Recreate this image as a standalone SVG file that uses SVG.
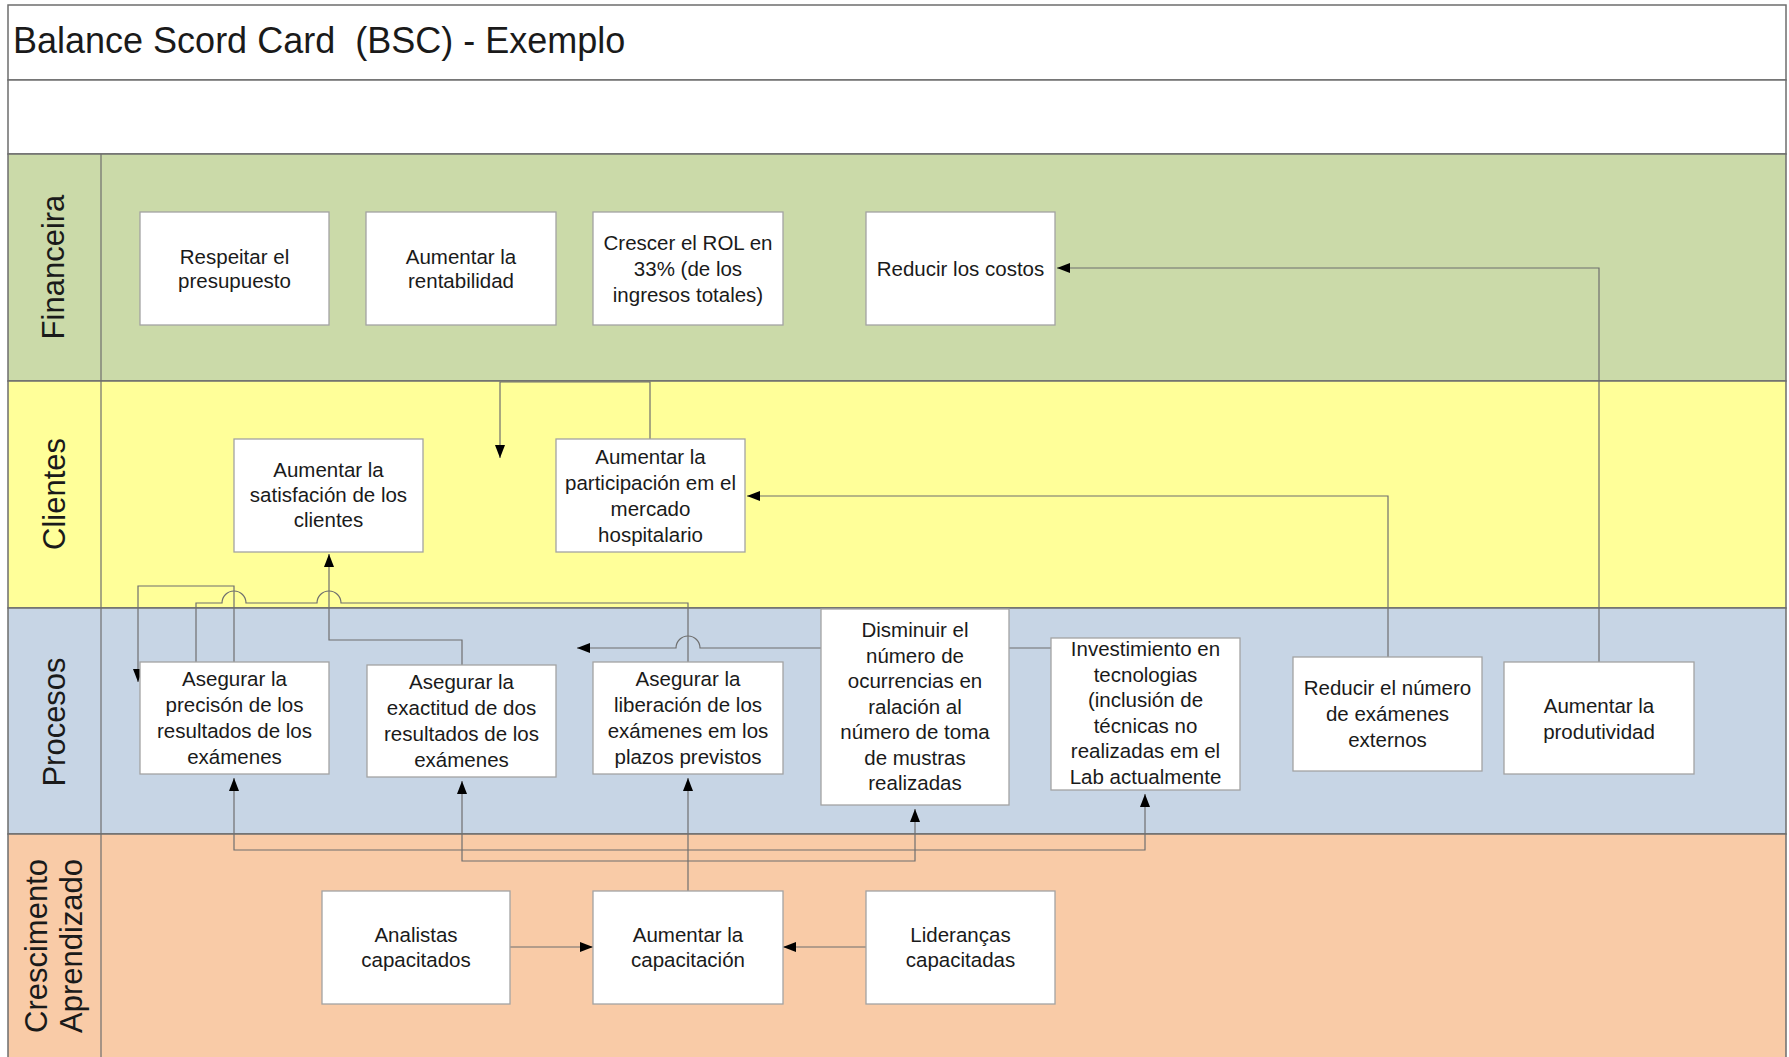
<svg xmlns="http://www.w3.org/2000/svg" width="1789" height="1057" viewBox="0 0 1789 1057">
<defs>
<style>
.lane{stroke:#6e6e6e;stroke-width:1.5}
.box{fill:#ffffff;stroke:#a3a3a3;stroke-width:1.3}
.t{font-family:"Liberation Sans",Arial,sans-serif;font-size:20.5px;fill:#1a1a1a;text-anchor:middle}
.lbl{font-family:"Liberation Sans",Arial,sans-serif;font-size:31px;fill:#1a1a1a;text-anchor:middle}
.c{fill:none;stroke:#6f6f6f;stroke-width:1.2}
</style>
<marker id="ah" markerWidth="13" markerHeight="10" refX="13" refY="5" orient="auto" markerUnits="userSpaceOnUse">
<path d="M0,0 L13,5 L0,10 z" fill="#000"/>
</marker>
</defs>
<rect x="0" y="0" width="1789" height="1057" fill="#ffffff"/>
<g id="frame">
<rect x="8" y="5" width="1778" height="75" fill="#ffffff" stroke="#6e6e6e" stroke-width="1.5"/>
<rect x="8" y="80" width="1778" height="74" fill="#ffffff" stroke="#6e6e6e" stroke-width="1.5"/>
<text x="13" y="53" xml:space="preserve" font-family="'Liberation Sans',Arial,sans-serif" font-size="36" fill="#1a1a1a">Balance Scord Card  (BSC) - Exemplo</text>
</g>
<g id="lanes">
<rect class="lane" x="8" y="154" width="1778" height="227" fill="#cbdaa9"/>
<rect class="lane" x="8" y="381" width="1778" height="227" fill="#ffff99"/>
<rect class="lane" x="8" y="608" width="1778" height="226" fill="#c7d5e5"/>
<rect class="lane" x="8" y="834" width="1778" height="230" fill="#f9cba7"/>
<line x1="101" y1="154" x2="101" y2="1057" stroke="#6e6e6e" stroke-width="1.2"/>
<text class="lbl" transform="translate(64,267) rotate(-90)">Financeira</text>
<text class="lbl" transform="translate(65,494) rotate(-90)">Clientes</text>
<text class="lbl" transform="translate(65,722) rotate(-90)">Procesos</text>
<text class="lbl" transform="translate(47,946) rotate(-90)">Crescimento</text>
<text class="lbl" transform="translate(82,946) rotate(-90)">Aprendizado</text>
</g>
<g id="connectors">
<path class="c" d="M1388,657 V496 H747" marker-end="url(#ah)"/>
<path class="c" d="M1599,662 V268 H1057" marker-end="url(#ah)"/>
<path class="c" d="M650,439 V382 H500 V458" marker-end="url(#ah)"/>
<path class="c" d="M462,665 V640 H329 V554" marker-end="url(#ah)"/>
<path class="c" d="M196,662 V603 H222 A12,12 0 0 1 246,603 H317 A12,12 0 0 1 341,603 H688 V662"/>
<path class="c" d="M234,662 V586 H138 V682" marker-end="url(#ah)"/>
<path class="c" d="M1051,648 H700 A12,12 0 0 0 676,648 H577" marker-end="url(#ah)"/>
<path class="c" d="M688,891 V778" marker-end="url(#ah)" stroke="#333"/>
<path class="c" d="M688,850 H234 V778" marker-end="url(#ah)"/>
<path class="c" d="M688,850 H1145 V794" marker-end="url(#ah)"/>
<path class="c" d="M688,861 H462 V781" marker-end="url(#ah)"/>
<path class="c" d="M688,861 H915 V809" marker-end="url(#ah)"/>
<path class="c" d="M510,947 H593" marker-end="url(#ah)"/>
<path class="c" d="M866,947 H783" marker-end="url(#ah)"/>
</g>
<g id="n1"><rect class="box" x="140" y="212" width="189" height="113"/><text class="t" x="234.5" y="264">Respeitar el</text><text class="t" x="234.5" y="288">presupuesto</text></g>
<g id="n2"><rect class="box" x="366" y="212" width="190" height="113"/><text class="t" x="461" y="264">Aumentar la</text><text class="t" x="461" y="288">rentabilidad</text></g>
<g id="n3"><rect class="box" x="593" y="212" width="190" height="113"/><text class="t" x="688" y="250">Crescer el ROL en</text><text class="t" x="688" y="276">33% (de los</text><text class="t" x="688" y="302">ingresos totales)</text></g>
<g id="n4"><rect class="box" x="866" y="212" width="189" height="113"/><text class="t" x="960.5" y="276">Reducir los costos</text></g>
<g id="n5"><rect class="box" x="234" y="439" width="189" height="113"/><text class="t" x="328.5" y="477">Aumentar la</text><text class="t" x="328.5" y="502">satisfación de los</text><text class="t" x="328.5" y="527">clientes</text></g>
<g id="n6"><rect class="box" x="556" y="439" width="189" height="113"/><text class="t" x="650.5" y="464">Aumentar la</text><text class="t" x="650.5" y="490">participación em el</text><text class="t" x="650.5" y="516">mercado</text><text class="t" x="650.5" y="542">hospitalario</text></g>
<g id="n7"><rect class="box" x="140" y="662" width="189" height="112"/><text class="t" x="234.5" y="686">Asegurar la</text><text class="t" x="234.5" y="712">precisón de los</text><text class="t" x="234.5" y="738">resultados de los</text><text class="t" x="234.5" y="764">exámenes</text></g>
<g id="n8"><rect class="box" x="367" y="665" width="189" height="112"/><text class="t" x="461.5" y="689">Asegurar la</text><text class="t" x="461.5" y="715">exactitud de dos</text><text class="t" x="461.5" y="741">resultados de los</text><text class="t" x="461.5" y="767">exámenes</text></g>
<g id="n9"><rect class="box" x="593" y="662" width="190" height="112"/><text class="t" x="688" y="686">Asegurar la</text><text class="t" x="688" y="712">liberación de los</text><text class="t" x="688" y="738">exámenes em los</text><text class="t" x="688" y="764">plazos previstos</text></g>
<g id="n10"><rect class="box" x="821" y="609" width="188" height="196"/><text class="t" x="915" y="637">Disminuir el</text><text class="t" x="915" y="663">número de</text><text class="t" x="915" y="688">ocurrencias en</text><text class="t" x="915" y="714">ralación al</text><text class="t" x="915" y="739">número de toma</text><text class="t" x="915" y="765">de mustras</text><text class="t" x="915" y="790">realizadas</text></g>
<g id="n11"><rect class="box" x="1051" y="638" width="189" height="152"/><text class="t" x="1145.5" y="656">Investimiento en</text><text class="t" x="1145.5" y="682">tecnologias</text><text class="t" x="1145.5" y="707">(inclusión de</text><text class="t" x="1145.5" y="733">técnicas no</text><text class="t" x="1145.5" y="758">realizadas em el</text><text class="t" x="1145.5" y="784">Lab actualmente</text></g>
<g id="n12"><rect class="box" x="1293" y="657" width="189" height="114"/><text class="t" x="1387.5" y="695">Reducir el número</text><text class="t" x="1387.5" y="721">de exámenes</text><text class="t" x="1387.5" y="747">externos</text></g>
<g id="n13"><rect class="box" x="1504" y="662" width="190" height="112"/><text class="t" x="1599" y="713">Aumentar la</text><text class="t" x="1599" y="739">produtividad</text></g>
<g id="n14"><rect class="box" x="322" y="891" width="188" height="113"/><text class="t" x="416" y="942">Analistas</text><text class="t" x="416" y="967">capacitados</text></g>
<g id="n15"><rect class="box" x="593" y="891" width="190" height="113"/><text class="t" x="688" y="942">Aumentar la</text><text class="t" x="688" y="967">capacitación</text></g>
<g id="n16"><rect class="box" x="866" y="891" width="189" height="113"/><text class="t" x="960.5" y="942">Lideranças</text><text class="t" x="960.5" y="967">capacitadas</text></g>
</svg>
